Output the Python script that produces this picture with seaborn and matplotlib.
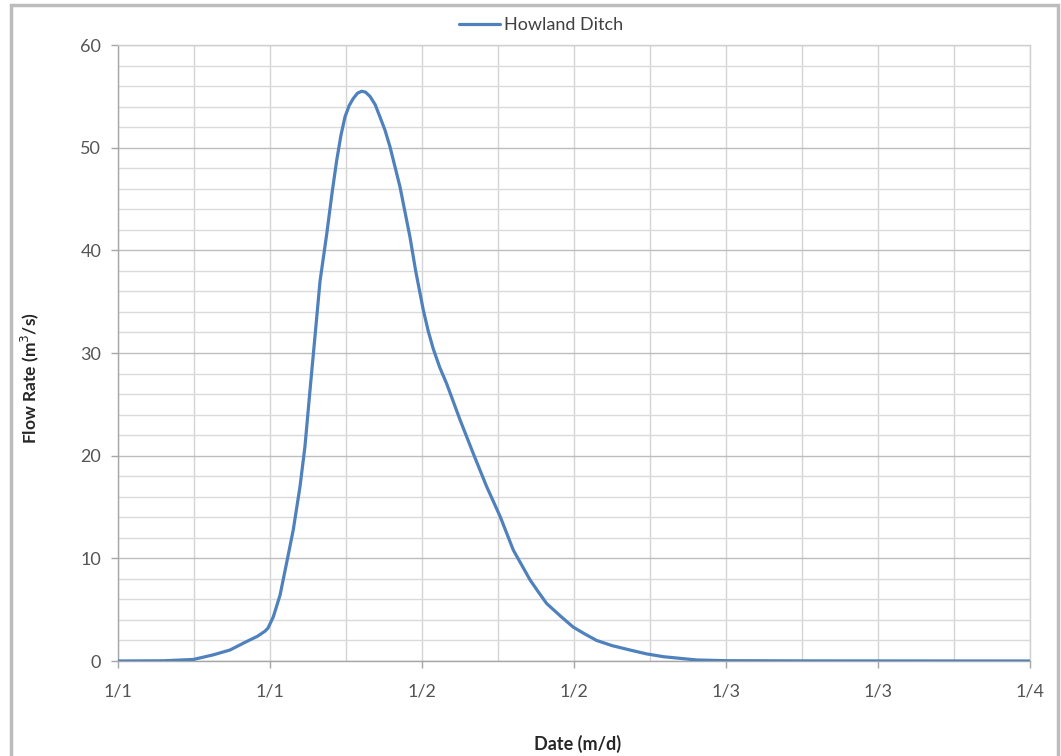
import matplotlib
matplotlib.use("Agg")
import matplotlib.pyplot as plt
import matplotlib.patches as mpatches
from matplotlib.ticker import MultipleLocator, FixedLocator
import seaborn as sns
import pandas as pd

# ---- data (hours since 1/1 00:00, flow rate m3/s) ----
hours = [0, 3.55, 5.95, 7.52, 8.84, 10.16, 11.0, 11.6, 11.84, 12.26, 12.79, 13.32,
         13.84, 14.37, 14.76, 15.16, 15.55, 15.95, 16.48, 16.9, 17.27, 17.6,
         17.92, 18.25, 18.58, 18.9, 19.24, 19.55, 19.89, 20.3, 20.68, 21.08,
         21.47, 22.26, 23.05, 23.5, 24.1, 24.5, 24.89, 25.4, 25.95, 27.0,
         28.05, 29.1, 30.16, 31.21, 32.53, 33.2, 33.84, 35.0, 35.94, 36.9,
         37.79, 39.0, 40.42, 41.7, 43.05, 45.69, 48.05, 53.8, 72]
flow = [0, 0.02, 0.15, 0.6, 1.07, 1.9, 2.4, 2.9, 3.2, 4.3, 6.4, 9.6,
        12.8, 17.0, 20.9, 26.4, 31.6, 37.0, 41.6, 45.6, 48.8, 51.2,
        53.0, 54.1, 54.8, 55.3, 55.5, 55.4, 55.0, 54.2, 53.0, 51.7,
        50.1, 46.2, 41.3, 38.0, 34.2, 32.1, 30.4, 28.6, 27.0, 23.5,
        20.2, 17.0, 14.1, 10.8, 7.9, 6.7, 5.6, 4.3, 3.3, 2.6,
        2.0, 1.5, 1.07, 0.7, 0.42, 0.1, 0.03, 0.01, 0]
series_name = "Howland Ditch"
tick_hours = [0, 12, 24, 36, 48, 60, 72]
tick_labels = ["1/1", "1/1", "1/2", "1/2", "1/3", "1/3", "1/4"]

df = pd.DataFrame({"hours": hours, "flow": flow, "series": series_name})

sns.set_theme(style="white")
plt.rcParams["font.family"] = ["Lato", "DejaVu Sans"]

fig = plt.figure(figsize=(10.61, 7.56), dpi=100)
ax = fig.add_axes([118 / 1061, 1 - 661 / 756, 912 / 1061, 616 / 756])

sns.lineplot(data=df, x="hours", y="flow", hue="series",
             palette=["#4F81BD"], linewidth=2.3, ax=ax, zorder=5)
for ln in ax.lines:
    ln.set_solid_joinstyle("round")
    ln.set_solid_capstyle("round")

ax.set_xlim(0, 72)
ax.set_ylim(0, 60)
ax.xaxis.set_major_locator(FixedLocator(tick_hours))
ax.set_xticklabels(tick_labels)
ax.xaxis.set_minor_locator(MultipleLocator(6))
ax.yaxis.set_major_locator(MultipleLocator(10))
ax.yaxis.set_minor_locator(MultipleLocator(2))

ax.grid(which="major", axis="y", color="#bdbdbd", linewidth=1.0, zorder=0)
ax.grid(which="minor", axis="y", color="#dadada", linewidth=1.0, zorder=0)
ax.grid(which="both", axis="x", color="#d4d4d4", linewidth=1.0, zorder=0)
ax.set_axisbelow(True)

for side in ["top", "right"]:
    ax.spines[side].set_visible(True)
    ax.spines[side].set_color("#d0d0d0")
    ax.spines[side].set_linewidth(1.0)
for side in ["left", "bottom"]:
    ax.spines[side].set_color("#a6a6a6")
    ax.spines[side].set_linewidth(1.0)

ax.tick_params(which="major", direction="out", length=5, width=1,
               color="#a6a6a6", labelsize=13, labelcolor="#555555")
ax.tick_params(which="major", axis="y", pad=7, left=True)
ax.tick_params(which="major", axis="x", pad=11, bottom=True)
ax.tick_params(which="minor", length=0)

ax.set_xlabel("")
ax.set_ylabel("")
fig.text(578 / 1061, 1 - 744 / 756, "Date (m/d)", ha="center", va="center",
         fontsize=13, fontweight="bold", color="#262626")
fig.text(30 / 1061, 1 - 378 / 756, "Flow Rate (m$^3$/s)", ha="center",
         va="center", rotation=90, fontsize=12.5, fontweight="bold",
         color="#262626")

leg = ax.legend(loc="center", bbox_to_anchor=(541 / 1061, 1 - 25 / 756),
                bbox_transform=fig.transFigure, frameon=False, fontsize=13,
                handlelength=2.3, handletextpad=0.2)
for t in leg.get_texts():
    t.set_color("#404040")

# outer chart frame
frame = mpatches.Rectangle((11 / 1061, -0.05), 1047 / 1061, 1.05 - 5 / 756,
                           transform=fig.transFigure, fill=False,
                           edgecolor="#bcbcbc", linewidth=2.5, zorder=10)
fig.patches.append(frame)

fig.savefig("out.png", dpi=100)
